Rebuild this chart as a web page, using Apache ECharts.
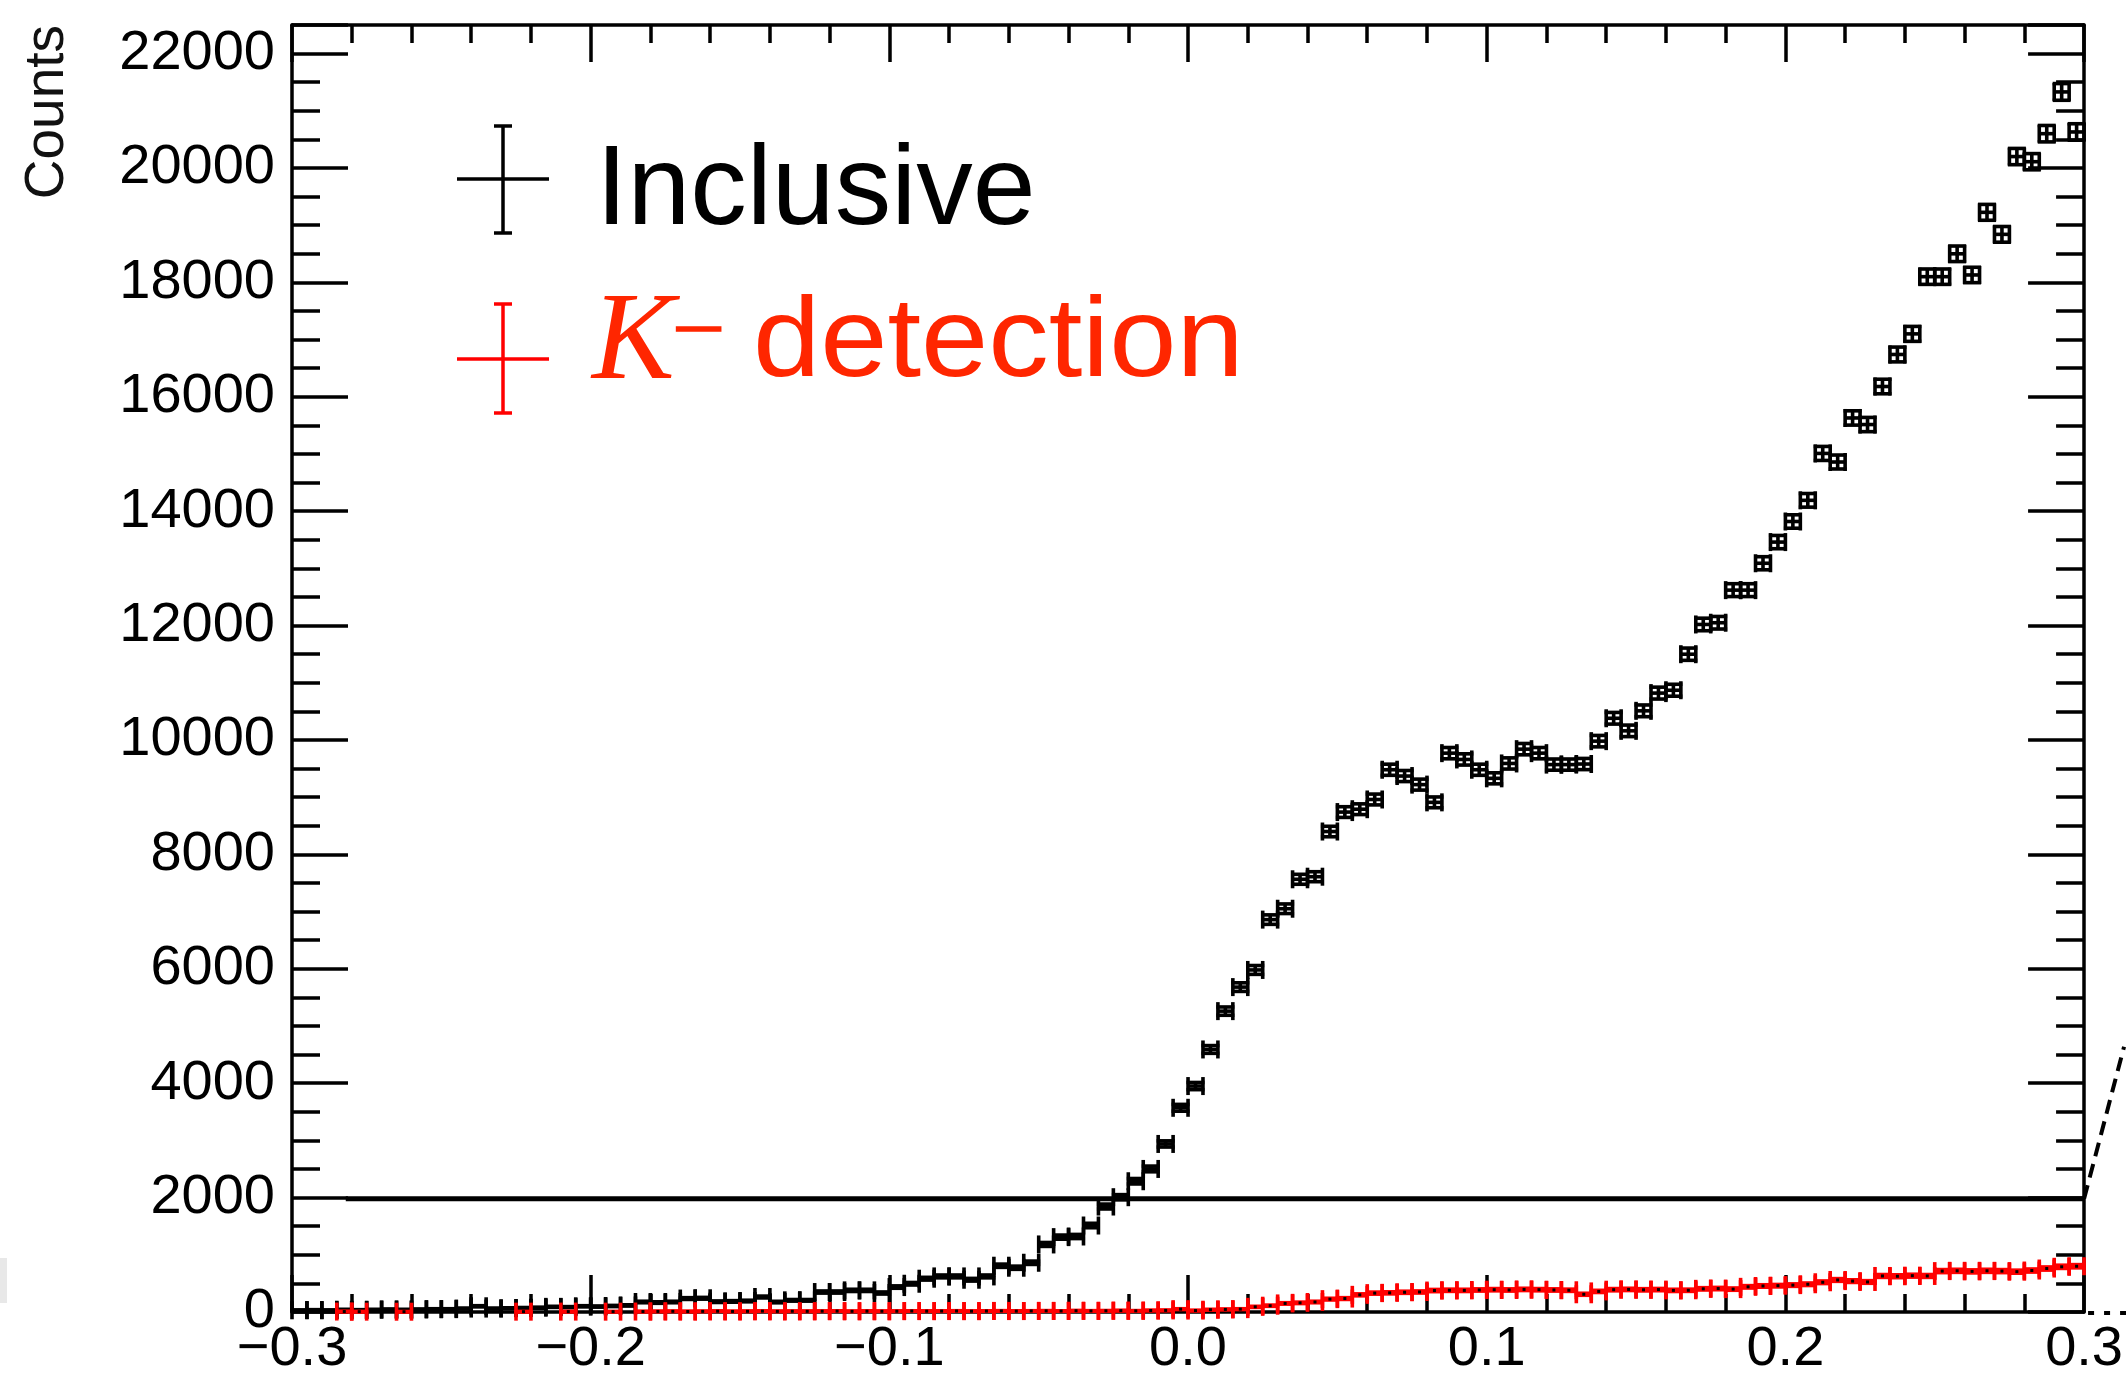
<!DOCTYPE html>
<html><head><meta charset="utf-8">
<script src="https://cdn.jsdelivr.net/npm/echarts@6.0.0/dist/echarts.min.js"></script>
<style>html,body{margin:0;padding:0;background:#fff}#c{width:2126px;height:1378px}</style>
</head><body><div id="c"></div>
<script>
// ---- histogram binning ----
const binLow = -0.3;
const binWidth = 0.005;

// ---- Inclusive counts (120 bins, -0.3 .. 0.3) ----
const inclusiveCounts = [
  30,35,30,40,35,40,45,40,45,50,
  50,60,100,60,65,70,75,90,85,100,
  95,105,115,175,165,175,235,240,180,185,
  192,262,174,204,204,349,349,378,378,332,
  436,494,582,622,622,564,622,809,774,861,
  1181,1309,1320,1512,1844,2007,2286,2501,2938,3570,
  3950,4590,5260,5680,5980,6860,7050,7565,7610,8400,
  8740,8790,8960,9480,9370,9220,8910,9770,9660,9480,
  9330,9590,9840,9770,9570,9570,9580,9980,10380,10160,
  10510,10820,10870,11500,12020,12050,12620,12620,13090,13460,
  13820,14190,15010,14860,15630,15515,16180,16740,17100,18100,
  18100,18500,18130,19225,18840,20200,20110,20600,21330,20630
];

// ---- K- detection counts (120 bins) ----
const kminusCounts = [
  0,0,0,8,6,0,0,5,0,0,
  0,0,0,0,0,6,0,0,7,0,
  0,6,0,8,10,12,9,11,14,10,
  12,15,11,13,12,14,16,12,15,13,
  14,17,15,16,18,14,17,19,16,18,
  20,17,22,19,21,24,20,26,28,50,
  25,40,45,50,90,110,150,160,175,225,
  235,300,330,335,345,350,375,380,378,385,
  390,385,395,390,385,380,310,360,390,395,
  388,392,378,380,405,410,400,440,455,460,
  470,485,520,560,540,525,630,625,635,630,
  715,720,710,720,715,705,725,760,790,800
];

// ---- horizontal reference line (data space) ----
const refLine = [[-0.282, 1980], [0.3, 1980]];

// ---- axes ----
const xMin = -0.3, xMax = 0.3, xStep = 0.1;
const yMin = 0, yMax = 22500, yStep = 2000;

const FONT = '"Liberation Sans", Arial, Helvetica, sans-serif';

function toPoints(arr) {
  return arr.map((v, i) => [binLow + (i + 0.5) * binWidth, v, Math.sqrt(v)]);
}

function makeRender(color) {
  const cap = 9;
  return function (params, api) {
    const x = api.value(0), y = api.value(1), e = api.value(2);
    if (!(y > 0)) return null;
    const pl = api.coord([x - binWidth / 2, y]);
    const pr = api.coord([x + binWidth / 2, y]);
    const pc = api.coord([x, y]);
    const pt = api.coord([x, y + e]);
    const pb = api.coord([x, y - e]);
    const st = {stroke: color, lineWidth: 3.6};
    const L = (x1, y1, x2, y2) => ({type: 'line', shape: {x1, y1, x2, y2}, style: st});
    return {
      type: 'group',
      children: [
        L(pl[0], pl[1], pr[0], pr[1]),
        L(pl[0], pl[1] - cap, pl[0], pl[1] + cap),
        L(pr[0], pr[1] - cap, pr[0], pr[1] + cap),
        L(pc[0], pt[1], pc[0], pb[1]),
        L(pc[0] - cap, pt[1], pc[0] + cap, pt[1]),
        L(pc[0] - cap, pb[1], pc[0] + cap, pb[1]),
        {type: 'rect', shape: {x: pc[0] - 1.5, y: pc[1] - 1.5, width: 3, height: 3}, style: {fill: '#000'}}
      ]
    };
  };
}

function xAxisDef(pos, showLabel) {
  return {
    type: 'value', position: pos, min: xMin, max: xMax, interval: xStep,
    axisLine: {show: true, onZero: false, lineStyle: {color: '#000', width: 3.5}},
    axisTick: {show: true, inside: true, length: 37, lineStyle: {color: '#000', width: 3.5}},
    minorTick: {show: true, splitNumber: 5, length: 18, lineStyle: {color: '#000', width: 3.5}},
    splitLine: {show: false}, minorSplitLine: {show: false},
    axisLabel: {
      show: showLabel, fontSize: 56, fontFamily: FONT, color: '#000', margin: 10,
      formatter: v => { const s = (Math.round(v * 10) / 10).toFixed(1); return s.replace('-', '\u2212'); }
    }
  };
}
function yAxisDef(pos, showLabel) {
  return {
    type: 'value', position: pos, min: yMin, max: yMax, interval: yStep,
    axisLine: {show: true, onZero: false, lineStyle: {color: '#000', width: 3.5}},
    axisTick: {show: true, inside: true, length: 56, lineStyle: {color: '#000', width: 3.5}},
    minorTick: {show: true, splitNumber: 4, length: 28, lineStyle: {color: '#000', width: 3.5}},
    splitLine: {show: false}, minorSplitLine: {show: false},
    axisLabel: {
      show: showLabel, fontSize: 56, fontFamily: FONT, color: '#000', margin: 17,
      formatter: v => (Math.round(v) % yStep === 0 ? String(Math.round(v)) : '')
    }
  };
}

const chart = echarts.init(document.getElementById('c'), null, {renderer: 'canvas'});

const legendLine = (x1, y1, x2, y2, c) => ({type: 'line', shape: {x1, y1, x2, y2}, style: {stroke: c, lineWidth: 3.5}, silent: true});

const option = {
  animation: false,
  backgroundColor: '#fff',
  grid: {left: 292, right: 38, top: 25, bottom: 63, containLabel: false},
  xAxis: [xAxisDef('bottom', true), xAxisDef('top', false)],
  yAxis: [yAxisDef('left', true), yAxisDef('right', false)],
  series: [
    {
      type: 'line', name: 'ref', data: refLine, xAxisIndex: 0, yAxisIndex: 0,
      symbol: 'none', lineStyle: {color: '#000', width: 5}, z: 1, silent: true
    },
    {
      type: 'custom', name: 'Inclusive', data: toPoints(inclusiveCounts),
      encode: {x: 0, y: 1}, renderItem: makeRender('#000'), clip: false, z: 2, silent: true
    },
    {
      type: 'custom', name: 'K- detection', data: toPoints(kminusCounts),
      encode: {x: 0, y: 1}, renderItem: makeRender('#ff0000'), clip: false, z: 3, silent: true
    }
  ],
  graphic: [
    {type: 'text', x: 48, y: 25, rotation: Math.PI / 2,
      style: {text: 'Counts', font: '55px ' + FONT, fill: '#111', align: 'right', verticalAlign: 'middle', textAlign: 'right', textVerticalAlign: 'middle'}},
    // legend: Inclusive
    legendLine(457, 179, 549, 179, '#000'),
    legendLine(503, 126, 503, 233, '#000'),
    legendLine(494, 126, 512, 126, '#000'),
    legendLine(494, 233, 512, 233, '#000'),
    {type: 'text', x: 596, y: 193,
      style: {text: 'Inclusive', font: '113px ' + FONT, fill: '#000', align: 'left', verticalAlign: 'middle', textAlign: 'left', textVerticalAlign: 'middle'}},
    // legend: K- detection
    legendLine(457, 359, 549, 359, '#ff0000'),
    legendLine(503, 304, 503, 413, '#ff0000'),
    legendLine(494, 304, 512, 304, '#ff0000'),
    legendLine(494, 413, 512, 413, '#ff0000'),
    {type: 'text', x: 592, y: 345,
      style: {text: 'K', font: 'italic 124px "Liberation Serif", "Times New Roman", serif', fill: '#ff2600', align: 'left', verticalAlign: 'middle', textAlign: 'left', textVerticalAlign: 'middle'}},
    {type: 'text', x: 672, y: 334, scaleX: 1.15,
      style: {text: '\u2212', font: '82px "Liberation Serif", "Times New Roman", serif', fill: '#ff2600', stroke: '#ff2600', lineWidth: 1.5, align: 'left', verticalAlign: 'middle', textAlign: 'left', textVerticalAlign: 'middle'}},
    {type: 'text', x: 753, y: 345, scaleX: 1.07,
      style: {text: 'detection', font: '113px ' + FONT, fill: '#ff2600', align: 'left', verticalAlign: 'middle', textAlign: 'left', textVerticalAlign: 'middle'}},
    // small grey artifact at left edge
    {type: 'rect', shape: {x: 0, y: 1258, width: 7, height: 45}, style: {fill: '#e8e8e8'}, silent: true}
  ]
};
chart.setOption(option);

// dashed zoom-indicator lines leaving the frame at the right
const pRef = chart.convertToPixel({xAxisIndex: 0, yAxisIndex: 0}, refLine[1]);
const pZero = chart.convertToPixel({xAxisIndex: 0, yAxisIndex: 0}, [xMax, 0]);
chart.setOption({
  graphic: option.graphic.concat([
    {type: 'line', shape: {x1: pRef[0], y1: pRef[1], x2: pRef[0] + 40, y2: pRef[1] - 152},
      style: {stroke: '#000', lineWidth: 4, lineDash: [14, 8]}, silent: true},
    {type: 'line', shape: {x1: pZero[0] + 4, y1: pZero[1] + 1, x2: 2126, y2: pZero[1] + 1},
      style: {stroke: '#000', lineWidth: 4, lineDash: [6, 10]}, silent: true}
  ])
});
</script></body></html>
